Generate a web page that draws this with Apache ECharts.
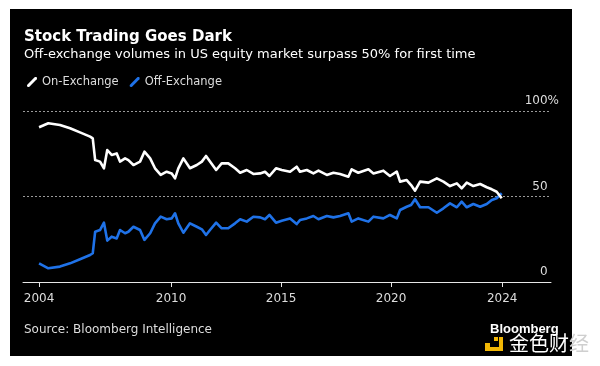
<!DOCTYPE html>
<html><head><meta charset="utf-8">
<script src="https://cdn.jsdelivr.net/npm/echarts@6/dist/echarts.min.js"></script>
<style>html,body{margin:0;padding:0;background:#fff;}#c{width:600px;height:366px;}</style>
</head><body><div id="c"></div>
<script>
const dates = [2004.00,2004.42,2004.95,2005.41,2005.86,2006.32,2006.44,2006.55,2006.77,2006.95,2007.10,2007.30,2007.53,2007.68,2007.91,2008.06,2008.29,2008.59,2008.79,2009.05,2009.27,2009.53,2009.80,2010.03,2010.18,2010.33,2010.56,2010.86,2011.17,2011.40,2011.59,2011.77,2012.05,2012.30,2012.60,2012.91,2013.14,2013.44,2013.74,2014.05,2014.27,2014.47,2014.77,2015.03,2015.41,2015.71,2015.86,2016.17,2016.47,2016.70,2017.08,2017.38,2017.68,2018.06,2018.21,2018.51,2018.97,2019.20,2019.65,2019.95,2020.26,2020.41,2020.71,2020.91,2021.09,2021.32,2021.70,2022.08,2022.38,2022.68,2022.99,2023.21,2023.44,2023.74,2024.05,2024.35,2024.58,2024.80,2025.03];
const onExchange = [90.5,92.8,91.8,89.9,87.5,85,84,71.3,70.4,66.5,77.2,74.3,75.2,70.4,72.3,71.3,68.4,70.4,76.2,72.3,66.5,62.6,64.5,63.5,60.6,66.5,72.3,66.5,68.4,70.4,73.7,70.4,65.5,69.4,69.4,66.5,63.9,65.5,63.2,63.5,64.5,62,66.5,65.5,64.5,67.4,64.5,65.5,63.5,65.1,62.6,63.9,63.2,61.6,65.9,63.9,65.9,63.5,65.1,62,64.5,58.7,59.6,56.7,53.4,58.7,58.1,60.6,58.7,56.1,57.7,54.8,58.1,56.1,57.3,55.4,54.2,52.8,49];
const offExchange = [10.9,8,9,10.9,13.3,15.8,16.8,29.4,30.4,34.7,24.2,26.5,25.5,30.4,28.5,29.4,32.3,30.4,24.6,28.5,34.3,38.2,36.7,37.2,40.2,34.3,28.8,34.3,32.3,30.8,27.5,30.4,34.7,31.4,31.4,34.3,36.7,35.3,38.2,37.8,36.7,39.2,34.7,35.8,37.2,33.9,36.2,37.2,38.6,36.7,38.6,37.8,38.6,40.2,35.3,37.2,35.3,38.2,37.2,39.2,37.2,42.1,44,45,48.4,43.7,43.7,40.5,43.1,46,43.7,47,43.7,45.6,44,45.6,48,49,51.9];
const xTickValues = [2004, 2010, 2015, 2020, 2025.05];
const xTickLabels = ['2004', '2010', '2015', '2020', '2024'];

const FONT = 'DejaVu Sans';
const chart = echarts.init(document.getElementById('c'), null, {renderer: 'canvas'});
const slash = 'path://M7.6,0.4 C8.4,-0.3 9.6,0.3 9.6,0.3 C10.3,1.1 9.7,2.2 9.7,2.2 L2.4,9.6 C1.6,10.3 0.4,9.7 0.4,9.7 C-0.3,8.9 0.3,7.8 0.3,7.8 Z';
chart.setOption({
  animation: false,
  textStyle: {fontFamily: FONT},
  graphic: [
    {type: 'rect', z: -10, silent: true, shape: {x: 10, y: 9, width: 562, height: 347}, style: {fill: '#000'}},
    {type: 'text', left: 24, top: 30, style: {text: 'Stock Trading Goes Dark', fill: '#fff', font: 'bold 15px "DejaVu Sans"'}},
    {type: 'text', left: 24, top: 48, style: {text: 'Off-exchange volumes in US equity market surpass 50% for first time', fill: '#fff', font: '13px "DejaVu Sans"'}},
    {type: 'text', left: 24, top: 324, style: {text: 'Source: Bloomberg Intelligence', fill: '#ddd', font: '12px "DejaVu Sans"'}},
    {type: 'text', left: 490, top: 323, style: {text: 'Bloomberg', fill: '#fff', font: 'bold 13px "Liberation Sans"'}},
    {type: 'rect', shape: {x: 485, y: 343, width: 5, height: 6}, style: {fill: '#f2b705'}},
    {type: 'rect', shape: {x: 494, y: 337, width: 4, height: 4}, style: {fill: '#f2b705'}},
    {type: 'rect', shape: {x: 499, y: 337, width: 4, height: 14}, style: {fill: '#f2b705'}},
    {type: 'rect', shape: {x: 485, y: 347, width: 18, height: 4}, style: {fill: '#f2b705'}},
    {type: 'text', left: 509, top: 333, style: {text: '金色财', fill: '#fff', font: '20px "Noto Sans CJK SC"'}},
    {type: 'text', left: 569, top: 333, style: {text: '经', fill: '#cfcfcf', font: '20px "Noto Sans CJK SC"'}}
  ],
  legend: {
    left: 22, top: 71, itemWidth: 10, itemHeight: 10, itemGap: 11,
    textStyle: {color: '#ddd', fontSize: 11.5, fontFamily: FONT},
    data: [{name: 'On-Exchange', icon: slash, itemStyle: {color: '#fff'}}, {name: 'Off-Exchange', icon: slash, itemStyle: {color: '#1f72e8'}}]
  },
  grid: {left: 23, right: 49, top: 111, bottom: 84},
  xAxis: {
    type: 'value', min: 2003.27, max: 2027.27,
    axisLine: {show: true, lineStyle: {color: '#e6e6e6', width: 1}},
    axisTick: {show: true, customValues: xTickValues, length: 5, lineStyle: {color: '#e6e6e6'}},
    axisLabel: {customValues: xTickValues, color: '#ddd', fontSize: 12, fontFamily: FONT, margin: 11,
      formatter: v => xTickLabels[xTickValues.indexOf(v)]},
    splitLine: {show: false}
  },
  yAxis: {
    type: 'value', position: 'right', min: 0, max: 100, interval: 50,
    axisLine: {show: false}, axisTick: {show: false},
    axisLabel: {inside: true, margin: -8, color: '#ddd', fontSize: 12, fontFamily: FONT, verticalAlign: 'bottom', padding: [0, 0, 4, 0],
      formatter: v => v === 100 ? '100%' : v + '{h|%}',
      rich: {h: {color: 'rgba(0,0,0,0)', fontSize: 12, fontFamily: FONT}}},
    splitLine: {show: true, lineStyle: {color: '#9a9a9a', type: [2, 2], width: 1}}
  },
  series: [
    {name: 'On-Exchange', type: 'line', showSymbol: false, data: dates.map((d, i) => [d, onExchange[i]]),
      lineStyle: {color: '#fff', width: 2.6, join: 'round'}, itemStyle: {color: '#fff'}, z: 3},
    {name: 'Off-Exchange', type: 'line', showSymbol: false, data: dates.map((d, i) => [d, offExchange[i]]),
      lineStyle: {color: '#1f72e8', width: 2.6, join: 'round'}, itemStyle: {color: '#1f72e8'}, z: 2}
  ]
});
</script></body></html>
